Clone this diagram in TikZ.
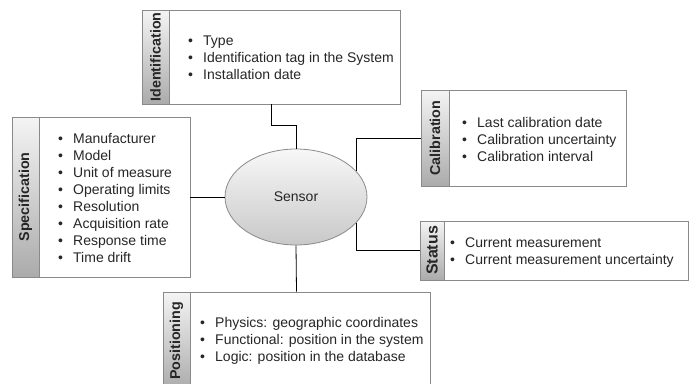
\documentclass[tikz,border=0pt]{standalone}
\usepackage{fontspec}
\setmainfont{Liberation Sans}
\usetikzlibrary{shapes.geometric}
\definecolor{boxline}{HTML}{8A8A8A}
\definecolor{txt}{HTML}{262626}
\definecolor{striptop}{HTML}{F4F4F4}
\definecolor{stripbot}{HTML}{ABABAB}
\definecolor{elltop}{HTML}{F8F8F8}
\definecolor{ellbot}{HTML}{C8C8C8}
\tikzset{
  infobox/.style={draw=boxline, fill=white, rectangle, inner sep=0pt, line width=0.8pt},
  stripbox/.style={draw=boxline, rectangle, inner sep=0pt, top color=striptop, bottom color=stripbot, line width=0.8pt, anchor=west},
  striplabel/.style={rotate=90, font=\fontsize{14.3}{16}\selectfont\bfseries, text=txt, inner sep=0pt},
  itemlist/.style={align=left, font=\fontsize{14}{17}\selectfont, text=txt, inner sep=0pt, anchor=west},
  hub/.style={ellipse, draw=boxline, top color=elltop, bottom color=ellbot, line width=0.8pt, minimum width=142pt, minimum height=96pt, inner sep=0pt, font=\fontsize{14}{17}\selectfont, text=txt},
  link/.style={draw=black, line width=0.8pt},
}
\newcommand{\bul}{\makebox[15pt][l]{•}}
\begin{document}
\begin{tikzpicture}[x=1pt, y=-1pt]
\useasboundingbox (0,0) rectangle (695,383);
% central node
\node[hub] (sensor) at (296,197) {Sensor};
% Identification
\node[infobox, minimum width=258pt, minimum height=94pt] (ident) at (271,57) {};
\node[stripbox, minimum width=27pt, minimum height=94pt] (identstrip) at (ident.west) {};
\node[striplabel] (identlab) at (identstrip.center) {Identification};
\node[itemlist] (identlist) at (188,58) {\bul Type\\ \bul Identification tag in the System\\ \bul Installation date};
% Specification
\node[infobox, minimum width=178pt, minimum height=160pt] (spec) at (101,197) {};
\node[stripbox, minimum width=27pt, minimum height=160pt] (specstrip) at (spec.west) {};
\node[striplabel] (speclab) at (specstrip.center) {Specification};
\node[itemlist] (speclist) at (58,198) {\bul Manufacturer\\ \bul Model\\ \bul Unit of measure\\ \bul Operating limits\\ \bul Resolution\\ \bul Acquisition rate\\ \bul Response time\\ \bul Time drift};
% Calibration
\node[infobox, minimum width=205pt, minimum height=96pt] (calib) at (523.5,138) {};
\node[stripbox, minimum width=28pt, minimum height=96pt] (calibstrip) at (calib.west) {};
\node[striplabel] (caliblab) at (calibstrip.center) {Calibration};
\node[itemlist] (caliblist) at (462,139) {\bul Last calibration date\\ \bul Calibration uncertainty\\ \bul Calibration interval};
% Status
\node[infobox, minimum width=268pt, minimum height=59pt] (status) at (554,250.5) {};
\node[stripbox, minimum width=24pt, minimum height=59pt] (statusstrip) at (status.west) {};
\node[striplabel, font=\fontsize{16}{18}\selectfont\bfseries] (statuslab) at (statusstrip.center) {Status};
\node[itemlist] (statuslist) at (450,252.5) {\bul Current measurement\\ \bul Current measurement uncertainty};
% Positioning
\node[infobox, minimum width=267pt, minimum height=98pt] (pos) at (296.5,341) {};
\node[stripbox, minimum width=27pt, minimum height=98pt] (posstrip) at (pos.west) {};
\node[striplabel] (poslab) at (posstrip.center) {Positioning};
\node[itemlist] (poslist) at (200,340.5) {\bul Physics: geographic coordinates\\ \bul Functional: position in the system\\ \bul Logic: position in the database};
% connectors
\draw[link] (ident.south) -- ++(0,21) -| (sensor.north);
\draw[link] (spec.east) -- (sensor.west);
\draw[link] (sensor.23) |- (calib.west);
\draw[link] (sensor.-23) |- (status.west);
\draw[link] (sensor.south) -- (pos.north);
\end{tikzpicture}
\end{document}
